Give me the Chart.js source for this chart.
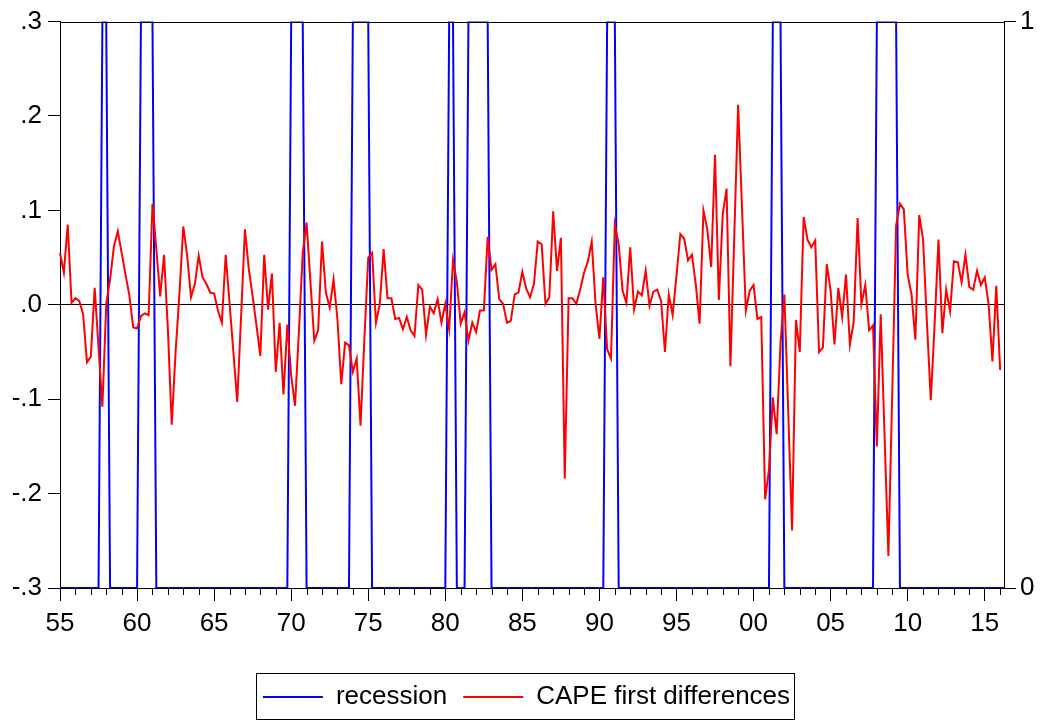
<!DOCTYPE html>
<html>
<head>
<meta charset="utf-8">
<title>recession and CAPE first differences</title>
<script src="https://cdn.jsdelivr.net/npm/chart.js@4.4.1/dist/chart.umd.min.js"></script>
<style>
  html, body { margin: 0; padding: 0; background: #fff; }
  #wrap { width: 1053px; height: 720px; }
</style>
</head>
<body>
<div id="wrap"><canvas id="chart"></canvas></div>
<script>
// quarterly sample 1955Q1 .. 2016Q2
const firstYear = 1955;
const quarterCount = 246;
const quarters = [];
for (let i = 0; i < quarterCount; i++) {
  quarters.push((firstYear + Math.floor(i / 4)) + "Q" + (i % 4 + 1));
}

// quarters flagged 1 in the recession dummy
const recessionPeriods = [
  ["1957Q4", "1958Q1"], ["1960Q2", "1961Q1"], ["1970Q1", "1970Q4"],
  ["1974Q1", "1975Q1"], ["1980Q2", "1980Q3"], ["1981Q3", "1982Q4"],
  ["1990Q3", "1991Q1"], ["2001Q2", "2001Q4"], ["2008Q1", "2009Q2"]
];
const recession = quarters.map(q => recessionPeriods.some(([a, b]) => q >= a && q <= b) ? 1 : 0);

// CAPE first differences, one value per quarter (last quarter missing)
const capeDiff = [
   0.055,  0.034,  0.085,  0.002,  0.007,  0.004, -0.010, -0.061, -0.055,  0.018,
  -0.045, -0.108,  0.001,  0.027,  0.062,  0.078,  0.055,  0.032,  0.010, -0.024,
  -0.025, -0.012, -0.009, -0.011,  0.107,  0.059,  0.009,  0.053, -0.026, -0.127,
  -0.050,  0.012,  0.083,  0.052,  0.008,  0.022,  0.052,  0.029,  0.022,  0.013,
   0.012, -0.006, -0.019,  0.053,  0.002, -0.050, -0.103, -0.012,  0.080,  0.038,
   0.009, -0.022, -0.054,  0.053, -0.005,  0.033, -0.071, -0.019, -0.095, -0.021,
  -0.075, -0.107, -0.029,  0.055,  0.087,  0.024, -0.038, -0.027,  0.067,  0.013,
  -0.003,  0.027, -0.015, -0.084, -0.040, -0.043, -0.071, -0.057, -0.128, -0.036,
   0.050,  0.055, -0.019,  0.001,  0.059,  0.007,  0.007, -0.015, -0.014, -0.026,
  -0.013, -0.027, -0.033,  0.021,  0.016, -0.032, -0.002, -0.009,  0.006, -0.019,
   0.001, -0.026,  0.047,  0.024, -0.020, -0.008, -0.038, -0.019, -0.029, -0.006,
  -0.006,  0.072,  0.037,  0.043,  0.006,  0.001, -0.019, -0.017,  0.011,  0.013,
   0.035,  0.017,  0.008,  0.022,  0.067,  0.064,  0.001,  0.008,  0.099,  0.036,
   0.071, -0.184,  0.007,  0.007,  0.001,  0.016,  0.034,  0.046,  0.067,  0.001,
  -0.036,  0.029, -0.047, -0.057,  0.085,  0.064,  0.015,  0.002,  0.061, -0.005,
   0.014,  0.010,  0.036, -0.001,  0.014,  0.016,  0.004, -0.050,  0.011, -0.011,
   0.031,  0.075,  0.070,  0.047,  0.053,  0.022, -0.020,  0.100,  0.080,  0.040,
   0.159,  0.005,  0.096,  0.123, -0.065,  0.073,  0.212,  0.103, -0.006,  0.015,
   0.021, -0.015, -0.013, -0.206, -0.175, -0.098, -0.137, -0.040,  0.011, -0.113,
  -0.239, -0.016, -0.050,  0.093,  0.069,  0.061,  0.068, -0.050, -0.045,  0.043,
   0.015, -0.042,  0.018, -0.013,  0.032, -0.042, -0.018,  0.092,  0.001,  0.021,
  -0.027, -0.022, -0.150, -0.010, -0.138, -0.266, -0.092,  0.084,  0.107,  0.101,
   0.032,  0.011, -0.037,  0.095,  0.069, -0.019, -0.101, -0.020,  0.069, -0.030,
   0.016, -0.007,  0.046,  0.045,  0.024,  0.053,  0.019,  0.016,  0.036,  0.021,
   0.029,  0.001, -0.060,  0.020, -0.069,  null
];

const leftTicks = [-0.3, -0.2, -0.1, 0, 0.1, 0.2, 0.3];
const rightTicks = [0, 1];

const isMajor = (q) => q && q.endsWith("Q1") && (+q.slice(0, 4)) % 5 === 0;
const isMinor = (q) => q && q.endsWith("Q1") && (+q.slice(0, 4)) % 5 !== 0;
const fmtLeft = (v) => {
  const s = (Math.abs(v) < 1e-9 ? 0 : v).toFixed(1);
  return s.replace("0.", ".");
};

Chart.defaults.font.family = "'Liberation Sans', Arial, sans-serif";
Chart.defaults.font.size = 26;
Chart.defaults.color = "#000";

// year ticks between the labelled ones, the top frame and the legend box
const eviewsFrame = {
  id: "eviewsFrame",
  afterDraw(chart) {
    const ctx = chart.ctx, area = chart.chartArea, xs = chart.scales.x;
    ctx.save();
    ctx.strokeStyle = "#000";
    ctx.lineWidth = 1;
    quarters.forEach((q, i) => {
      if (!isMinor(q)) return;
      const px = Math.round(xs.getPixelForValue(i)) + 0.5;
      ctx.beginPath();
      ctx.moveTo(px, area.bottom);
      ctx.lineTo(px, area.bottom + 7);
      ctx.stroke();
    });
    ctx.beginPath();
    ctx.moveTo(area.left, Math.round(area.top) + 0.5);
    ctx.lineTo(area.right, Math.round(area.top) + 0.5);
    ctx.stroke();

    const boxes = chart.legend && chart.legend.legendHitBoxes;
    if (boxes && boxes.length) {
      const first = boxes[0], last = boxes[boxes.length - 1];
      const left = Math.round(first.left - 7) + 0.5;
      const right = Math.round(last.left + last.width + 4) + 0.5;
      const top = Math.round(first.top + first.height / 2 - 24) + 0.5;
      ctx.strokeRect(left, top, right - left, 46);
    }
    ctx.restore();
  }
};

new Chart(document.getElementById("chart"), {
  type: "line",
  data: {
    labels: quarters,
    datasets: [
      {
        label: "recession",
        data: recession,
        yAxisID: "y2",
        borderColor: "#0000ff",
        backgroundColor: "#0000ff",
        borderWidth: 2,
        pointRadius: 0,
        pointStyle: "line",
        tension: 0,
        order: 1
      },
      {
        label: "CAPE first differences",
        data: capeDiff,
        yAxisID: "y",
        borderColor: "#ff0000",
        backgroundColor: "#ff0000",
        borderWidth: 2,
        pointRadius: 0,
        pointStyle: "line",
        tension: 0,
        order: 0
      }
    ]
  },
  options: {
    responsive: true,
    maintainAspectRatio: false,
    animation: false,
    devicePixelRatio: 1,
    layout: { padding: { top: 20, left: 0, right: 0, bottom: 0 } },
    plugins: {
      tooltip: { enabled: false },
      legend: {
        position: "bottom",
        labels: {
          usePointStyle: true,
          pointStyleWidth: 60,
          padding: 16,
          color: "#000",
          font: { size: 26 },
          sort: (a, b) => a.datasetIndex - b.datasetIndex
        }
      }
    },
    scales: {
      x: {
        type: "category",
        offset: false,
        grid: {
          drawOnChartArea: false,
          tickLength: 13,
          tickColor: (c) => isMajor(quarters[c.index]) ? "#000" : "rgba(0,0,0,0)"
        },
        border: { display: true, color: "#000", width: 1 },
        ticks: {
          autoSkip: false,
          maxRotation: 0,
          minRotation: 0,
          padding: 7,
          callback: (v, i) => isMajor(quarters[i]) ? quarters[i].slice(2, 4) : ""
        },
        afterFit: (s) => {
          const lg = s.chart.legend ? s.chart.legend.height : 0;
          s.height = 720 - 588 - lg;
        }
      },
      y: {
        position: "left",
        min: -0.3,
        max: 0.3,
        afterBuildTicks: (s) => { s.ticks = leftTicks.map(v => ({ value: v })); },
        grid: {
          drawOnChartArea: true,
          tickLength: 12,
          tickColor: "#000",
          lineWidth: 1,
          color: (c) => c.tick && Math.abs(c.tick.value) < 1e-9 ? "#000" : "rgba(0,0,0,0)"
        },
        border: { display: true, color: "#000", width: 1 },
        ticks: { padding: 6, callback: (v) => fmtLeft(v) },
        afterFit: (s) => { s.width = 60; }
      },
      y2: {
        position: "right",
        min: 0,
        max: 1,
        afterBuildTicks: (s) => { s.ticks = rightTicks.map(v => ({ value: v })); },
        grid: { drawOnChartArea: false, tickLength: 12, tickColor: "#000" },
        border: { display: true, color: "#000", width: 1 },
        ticks: { padding: 4, callback: (v) => String(v) },
        afterFit: (s) => { s.width = 1053 - 1004; }
      }
    }
  },
  plugins: [eviewsFrame]
});
</script>
</body>
</html>
